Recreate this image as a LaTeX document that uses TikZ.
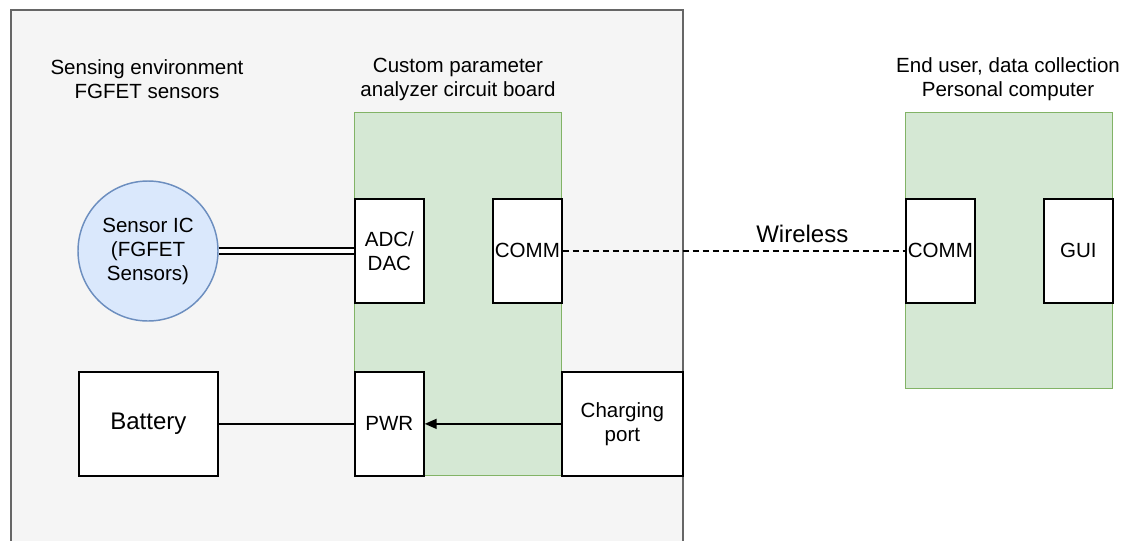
\documentclass[tikz,border=0pt]{standalone}
\usepackage{fontspec}
\setmainfont{Liberation Sans}
\usetikzlibrary{positioning,arrows.meta}
\definecolor{envgray}{HTML}{F5F5F5}
\definecolor{envline}{HTML}{666666}
\definecolor{boardgreen}{HTML}{D5E8D4}
\definecolor{boardline}{HTML}{82B366}
\definecolor{icblue}{HTML}{DAE8FC}
\definecolor{icline}{HTML}{6C8EBF}

\begin{document}
\begin{tikzpicture}[x=0.75pt,y=-0.75pt,
        lbl/.style={font=\fontsize{15.4}{18}\selectfont,align=center},
        blk/.style={draw,fill=white,line width=1.3pt,minimum width=51.75pt,minimum height=78pt,
                    inner sep=0pt,font=\fontsize{15.4}{18}\selectfont,align=center,anchor=north west},
        board/.style={draw=boardline,fill=boardgreen,line width=1.1pt,minimum width=155.25pt,
                      inner sep=0pt,anchor=north west},
        arr/.style={-{Triangle[length=9pt,width=7.5pt]},line width=1.3pt}]
        \useasboundingbox (0,0) rectangle (1128,540);
        \node[draw=envline,fill=envgray,line width=1.3pt,minimum width=504pt,minimum height=413pt,
              anchor=north west] (env) at (10,9) {};
        \node[lbl] (envlbl) at (147,79) {Sensing environment\\FGFET sensors};
        \node[lbl] (boardlbl) at (458,79) {Custom parameter\\analyzer circuit board};
        \node[lbl] (pclbl) at (1008,79) {End user, data collection\\Personal computer};
        \node[board,minimum height=272.25pt] (board) at (354,112) {};
        \node[board,minimum height=207pt] (pc) at (905,112) {};
        \node[circle,draw=icline,fill=icblue,line width=1.1pt,minimum size=105pt,inner sep=0pt,lbl]
            (ic) at (148,251) {Sensor IC\\(FGFET\\Sensors)};
        \node[blk] (adc) at (354,198) {ADC/\\DAC};
        \node[blk] (comm) at (492,198) {COMM};
        \node[blk] (pwr) at (354,371) {PWR};
        \node[blk,minimum width=90.75pt] (charge) at (561,371) {Charging\\port};
        \node[blk,minimum width=104.25pt,font=\fontsize{18}{21}\selectfont] (bat) at (78,371) {Battery};
        \node[blk] (pccomm) at (905,198) {COMM};
        \node[blk] (gui) at (1043,198) {GUI};
        \draw[double,double distance=3pt,line width=1.3pt] (ic.east) -- (ic.east -| adc.west);
        \draw[line width=1.3pt] (bat) -- (pwr);
        \draw[arr] (charge) -- (pwr);
        \draw[line width=1.3pt,dash pattern=on 4.5pt off 3pt] (comm) --
            node[pos=0.7,above=2pt,font=\fontsize{18}{21}\selectfont] (wless) {Wireless} (pccomm);
    \end{tikzpicture}
\end{document}
